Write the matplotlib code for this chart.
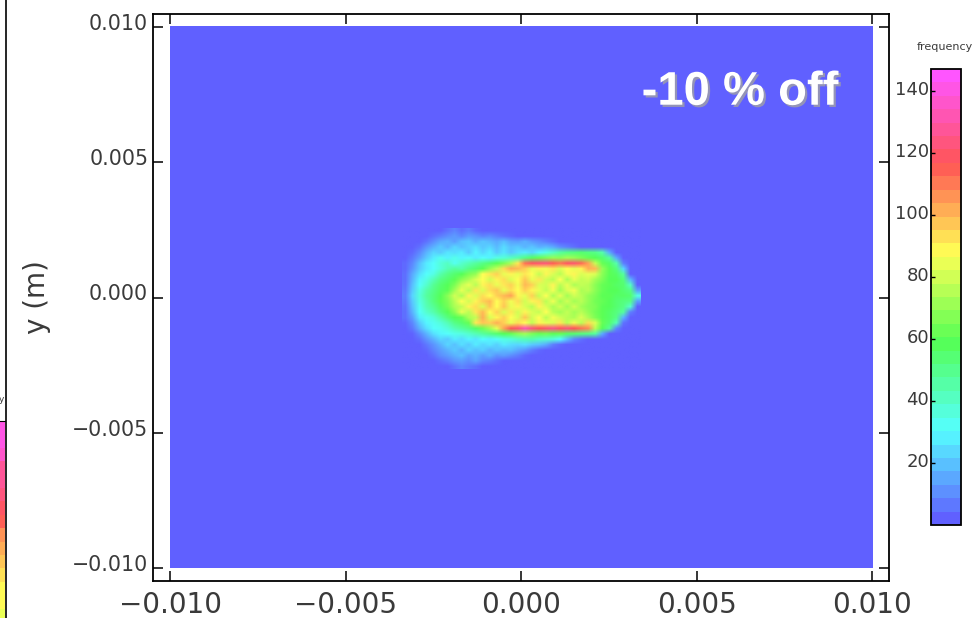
"""
Beam spot histogram (-10 % off) with frequency colour bar.
"""

import numpy as np
import matplotlib
matplotlib.use("Agg")
import matplotlib.pyplot as plt
import matplotlib.patheffects as pe
from matplotlib.colors import LinearSegmentedColormap, Normalize
from matplotlib.transforms import ScaledTranslation

# ── data ──────────────────────────────────────────────────────────────────────
# counts per 0.0002 m cell, top row first
spot_x_range = [-0.0034, 0.0034]
spot_y_range = [-0.00263, 0.00257]
spot_counts = [
    [0,0,0,0,0,0,4,7,3,6,2,0,0,0,0,0,0,0,0,0,0,0,0,0,0,0,0,0,0,0,0,0,0,0],
    [0,0,0,0,3,6,9,11,8,12,10,7,9,6,4,2,0,0,0,0,0,0,0,0,0,0,0,0,0,0,0,0,0,0],
    [0,0,0,4,9,14,16,12,18,20,15,19,17,14,18,13,12,15,11,9,6,3,0,0,0,0,0,0,0,0,0,0,0,0],
    [0,0,3,10,15,20,16,22,18,21,24,19,22,17,23,18,20,16,19,15,17,14,9,6,3,0,0,0,0,0,0,0,0,0],
    [0,2,8,16,22,20,25,23,26,20,28,22,27,20,25,19,24,26,22,28,34,40,46,50,52,54,52,50,44,14,0,0,0,0],
    [0,5,12,20,26,32,27,33,28,31,26,30,27,34,36,40,44,50,56,62,66,70,68,72,70,66,62,58,54,46,14,0,0,0],
    [2,8,18,26,30,36,40,32,38,42,46,50,54,60,66,74,92,112,120,122,124,116,112,120,122,114,104,78,62,56,44,6,0,0],
    [2,10,20,26,30,36,42,46,44,50,54,60,70,78,94,102,100,96,84,90,86,92,82,88,84,90,102,100,70,60,52,22,0,0],
    [3,14,24,30,34,44,50,54,58,66,70,88,92,96,84,90,84,92,88,78,90,82,76,86,90,82,84,82,68,60,56,46,0,0],
    [3,16,28,34,42,50,54,60,68,74,82,88,80,90,94,82,88,98,84,92,80,76,88,74,84,78,80,72,66,58,58,52,16,0],
    [4,18,30,38,48,54,58,66,78,84,76,90,94,84,92,96,86,100,96,82,80,90,76,84,74,78,76,68,62,60,56,54,40,0],
    [5,20,34,44,50,56,60,72,84,76,92,82,94,98,84,94,88,96,90,84,78,86,72,82,86,74,76,68,62,58,58,54,50,12],
    [6,22,36,46,52,58,68,80,74,90,82,94,88,96,100,104,90,84,96,78,88,74,84,72,80,76,70,66,60,60,56,56,54,34],
    [5,20,34,44,52,60,66,76,88,80,90,96,100,88,96,86,94,80,90,92,76,86,72,80,72,76,70,64,62,58,54,52,50,12],
    [4,18,32,42,48,56,64,74,78,90,94,82,98,88,98,84,90,82,76,90,82,74,80,72,80,72,68,66,60,58,54,50,38,0],
    [3,16,30,38,44,52,58,68,84,76,92,100,88,96,82,92,80,90,82,78,88,76,72,78,72,76,70,64,60,56,52,46,6,0],
    [3,12,26,32,36,44,52,58,62,74,78,102,82,90,96,88,82,98,80,88,76,86,80,76,74,82,74,66,60,56,50,16,0,0],
    [1,8,20,28,32,36,42,50,54,62,92,98,96,102,96,84,94,88,78,90,84,82,92,76,86,76,94,82,62,54,42,4,0,0],
    [0,5,15,24,30,32,36,42,46,50,56,64,72,84,104,118,122,134,124,118,122,126,120,124,118,112,108,76,58,48,8,0,0,0],
    [0,1,8,16,24,28,30,33,35,38,42,46,50,54,58,62,68,72,66,62,64,60,62,56,54,52,50,46,14,0,0,0,0,0],
    [0,0,3,10,16,22,20,26,23,28,25,30,27,31,34,36,40,42,44,40,38,36,30,18,8,3,0,0,0,0,0,0,0,0],
    [0,0,0,5,10,16,22,18,24,20,26,22,25,21,26,23,22,24,20,18,14,6,2,0,0,0,0,0,0,0,0,0,0,0],
    [0,0,0,2,7,12,16,20,15,22,18,21,16,19,17,18,14,11,6,2,0,0,0,0,0,0,0,0,0,0,0,0,0,0],
    [0,0,0,0,4,9,12,15,18,13,16,12,15,10,12,9,6,2,0,0,0,0,0,0,0,0,0,0,0,0,0,0,0,0],
    [0,0,0,0,0,3,6,10,12,9,13,8,6,3,0,0,0,0,0,0,0,0,0,0,0,0,0,0,0,0,0,0,0,0],
    [0,0,0,0,0,0,0,4,7,5,3,0,0,0,0,0,0,0,0,0,0,0,0,0,0,0,0,0,0,0,0,0,0,0],
]
position_ticks = [-0.010, -0.005, 0.000, 0.005, 0.010]
position_labels = ["\u22120.010", "\u22120.005", "0.000", "0.005", "0.010"]
freq_ticks = [20, 40, 60, 80, 100, 120, 140]
freq_max = 147
cmap_colors = ["#6060ff", "#55ffff", "#55ff55", "#ffff55", "#ff5555", "#ff55ff"]
n_bands = 34

# ── colour scale ──────────────────────────────────────────────────────────────
cmap = LinearSegmentedColormap.from_list("freq", cmap_colors, N=n_bands)
cmap_smooth = LinearSegmentedColormap.from_list("freq_smooth", cmap_colors, N=256)
norm = Normalize(0, freq_max)
W, H = 975, 618
INK = "#3a3a3a"

def px_rect(x0, y0, x1, y1):
    # pixel box (y from the top) -> figure fractions
    return [x0 / W, 1 - y1 / H, (x1 - x0) / W, (y1 - y0) / H]

def nudge_labels(labels, dy_px):
    # hershey-style labels sit a little above their ticks
    for lab in labels:
        lab.set_transform(lab.get_transform() + ScaledTranslation(0, dy_px / 100, fig.dpi_scale_trans))

fig = plt.figure(figsize=(W / 100, H / 100), dpi=100)

# ── main panel ────────────────────────────────────────────────────────────────
ax = fig.add_axes(px_rect(153, 14, 889, 581))
bg = ax.imshow([[0]], extent=[-0.01, 0.01, -0.01, 0.01], cmap=cmap, norm=norm, aspect="auto")
ax.imshow(np.array(spot_counts), extent=[*spot_x_range, *spot_y_range],
          cmap=cmap_smooth, norm=norm, aspect="auto", interpolation="bilinear",
          interpolation_stage="rgba")
ax.set_xlim(-0.010484, 0.010470)
ax.set_ylim(-0.01048, 0.01048)
ax.set_xticks(position_ticks, position_labels, fontsize=20, color=INK)
ax.set_yticks(position_ticks, position_labels, fontsize=14.8, color=INK)
ax.tick_params(axis="both", direction="in", length=7.5, width=1.1, top=True, right=True)
ax.tick_params(axis="x", pad=7.5)
ax.tick_params(axis="y", pad=3.5)
nudge_labels(ax.get_yticklabels(), 5)
ax.set_ylabel("y (m)", fontsize=20, color=INK, labelpad=15)
for s in ax.spines.values():
    s.set_linewidth(1.3)

ax.text(0.00623, 0.00757, "-10 % off", color="white", fontsize=34, fontweight="bold",
        family="Liberation Sans", ha="center", va="center",
        path_effects=[pe.withSimplePatchShadow(offset=(1.6, -1.6), shadow_rgbFace="#9a9ab0", alpha=0.9)])

# ── colour bar ────────────────────────────────────────────────────────────────
cax = fig.add_axes(px_rect(931, 69, 961, 525))
cb = fig.colorbar(plt.cm.ScalarMappable(norm=norm, cmap=cmap), cax=cax)
cb.set_ticks(freq_ticks)
cax.yaxis.tick_left()
cax.tick_params(axis="y", direction="in", length=3, width=1, pad=1.5, labelsize=13, labelcolor=INK)
nudge_labels(cax.get_yticklabels(), 3)
cb.outline.set_linewidth(1.3)
fig.text(945 / W, 1 - 47 / H, "frequency", fontsize=8, ha="center", va="center", color=INK)

# ── clipped neighbour colour bar at the left edge ─────────────────────────────
sax = fig.add_axes(px_rect(0, 421, 5, 618))
levels = np.linspace(0, freq_max, n_bands + 1)
sax.pcolormesh([0, 1], levels, np.array([levels[:-1]]).T, cmap=cmap, norm=norm)
sax.set_xlim(0, 1)
sax.set_ylim(freq_max - 197 / 3.1, freq_max)
sax.set_xticks([])
sax.set_yticks([])
for s in sax.spines.values():
    s.set_visible(False)
sax.spines["top"].set_visible(True)
fig.add_artist(plt.Line2D([5.5 / W, 5.5 / W], [0, 1], color="black", lw=1.2))
fig.text(-1 / W, 1 - 400 / H, "y", fontsize=6.5, ha="left", va="center", color=INK)

fig.savefig("out.png", dpi=100)
plt.close(fig)
